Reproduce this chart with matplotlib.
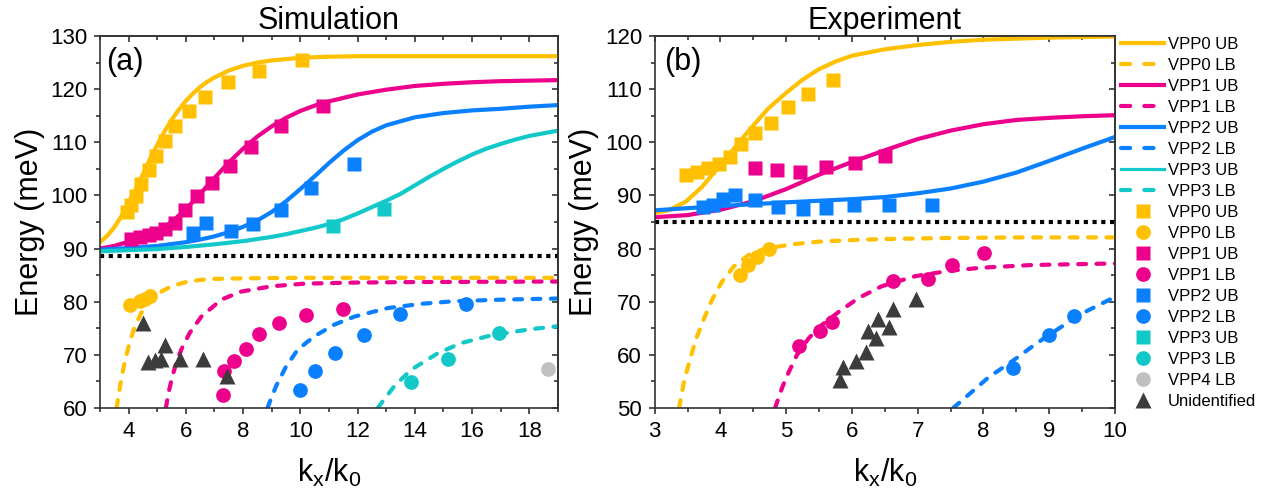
import matplotlib
matplotlib.use('Agg')
import matplotlib.pyplot as plt
from matplotlib.lines import Line2D
from matplotlib.ticker import MultipleLocator, NullFormatter

plt.rcParams['font.family'] = ['Liberation Sans', 'DejaVu Sans']
plt.rcParams['mathtext.fontset'] = 'custom'
plt.rcParams['mathtext.rm'] = 'Liberation Sans'
plt.rcParams['mathtext.it'] = 'Liberation Sans:italic'

# ---------------- simulation (a) ----------------
sim_ub0_line_x = [3.0, 3.25, 3.5, 3.75, 4.0, 4.25, 4.5, 4.75, 5.0, 5.25, 5.5, 5.75, 6.0, 6.25, 6.5,
                  6.75, 7.0, 7.5, 8.0, 8.5, 9.0, 10.0, 11.0, 12.0, 14.0, 16.0, 19.0]
sim_ub0_line_e = [91.2, 92.4, 94.0, 96.1, 98.6, 101.3, 104.0, 106.9, 109.5, 112.0, 114.2, 116.1, 117.8,
                  119.2, 120.4, 121.4, 122.2, 123.5, 124.4, 125.0, 125.4, 125.9, 126.1, 126.2, 126.2,
                  126.2, 126.2]
sim_ub1_line_x = [3.0, 3.5, 4.0, 4.5, 5.0, 5.5, 6.0, 6.5, 7.0, 7.5, 8.0, 8.5, 9.0, 9.5, 10.0, 10.5,
                  11.0, 12.0, 13.0, 14.0, 15.0, 16.0, 17.0, 19.0]
sim_ub1_line_e = [90.0, 90.5, 91.3, 92.2, 93.2, 95.0, 97.4, 100.3, 103.3, 106.2, 108.8, 111.1, 113.0,
                  114.6, 115.9, 116.9, 117.7, 119.0, 119.9, 120.6, 121.0, 121.3, 121.5, 121.7]
sim_ub2_line_x = [3.0, 4.0, 5.0, 6.0, 6.5, 7.0, 7.5, 8.0, 8.5, 9.0, 9.5, 10.0, 10.5, 11.0, 11.5,
                  12.0, 12.5, 13.0, 14.0, 15.0, 16.0, 17.0, 18.0, 19.0]
sim_ub2_line_e = [89.8, 90.1, 90.5, 91.2, 91.7, 92.3, 93.1, 94.1, 95.3, 96.9, 98.9, 101.2, 103.6,
                  106.1, 108.4, 110.4, 112.0, 113.2, 114.7, 115.5, 116.0, 116.3, 116.7, 117.0]
sim_ub3_line_x = [3.0, 4.0, 5.0, 6.0, 7.0, 8.0, 9.0, 9.5, 10.0, 10.5, 11.0, 11.5, 12.0, 12.5, 13.0,
                  13.5, 14.0, 14.5, 15.0, 15.5, 16.0, 16.5, 17.0, 17.5, 18.0, 18.5, 19.0]
sim_ub3_line_e = [89.5, 89.7, 89.9, 90.3, 90.8, 91.4, 92.2, 92.7, 93.3, 93.9, 94.6, 95.5, 96.6, 97.8,
                  99.0, 100.3, 101.9, 103.5, 105.0, 106.4, 107.7, 108.8, 109.7, 110.5, 111.2, 111.7,
                  112.2]

sim_lb0_line_x = [3.58, 3.65, 3.74, 3.88, 4.04, 4.21, 4.44, 4.7, 4.91, 5.2, 5.5, 6.0, 6.5, 7.0, 8.0,
                  10.0, 13.0, 16.0, 19.0]
sim_lb0_line_e = [60.0, 62.5, 65.3, 69.1, 72.4, 75.2, 77.9, 79.9, 81.0, 82.1, 82.9, 83.7, 84.1, 84.3,
                  84.4, 84.5, 84.5, 84.5, 84.5]
sim_lb1_line_x = [5.3, 5.4, 5.52, 5.66, 5.84, 6.13, 6.54, 7.24, 7.93, 8.98, 10.14, 11.9, 14.0, 19.0]
sim_lb1_line_e = [60.0, 63.0, 65.8, 68.4, 71.0, 74.1, 77.2, 80.4, 81.9, 82.9, 83.4, 83.6, 83.7, 83.8]
sim_lb2_line_x = [8.85, 8.92, 9.15, 9.5, 9.91, 10.49, 11.19, 11.89, 13.05, 14.22, 15.38, 17.12, 19.0]
sim_lb2_line_e = [60.0, 61.0, 64.1, 67.8, 71.0, 73.5, 75.7, 77.2, 78.8, 79.6, 80.1, 80.4, 80.6]
sim_lb3_line_x = [12.7, 13.28, 13.87, 14.8, 15.61, 16.54, 17.17, 18.0, 19.0]
sim_lb3_line_e = [60.0, 64.1, 67.2, 70.3, 72.2, 73.5, 74.1, 74.8, 75.4]

sim_ub0_x = [3.94, 4.1, 4.25, 4.44, 4.71, 4.97, 5.28, 5.63, 6.1, 6.68, 7.47, 8.54, 10.06]
sim_ub0_e = [96.8, 98.2, 99.8, 102.2, 104.8, 107.4, 110.3, 113.1, 115.9, 118.6, 121.3, 123.5, 125.4]
sim_ub1_x = [4.07, 4.38, 4.7, 4.95, 5.28, 5.61, 5.96, 6.39, 6.91, 7.53, 8.28, 9.31, 10.8]
sim_ub1_e = [91.8, 92.1, 92.5, 93.0, 93.7, 94.9, 97.3, 99.8, 102.4, 105.6, 109.2, 113.0, 116.8]
sim_ub2_x = [6.25, 6.71, 7.58, 8.36, 9.31, 10.38, 11.89]
sim_ub2_e = [92.9, 94.9, 93.3, 94.6, 97.3, 101.4, 105.9]
sim_ub3_x = [11.13, 12.91]
sim_ub3_e = [94.3, 97.4]
sim_lb0_x = [4.06, 4.38, 4.56, 4.73]
sim_lb0_e = [79.4, 80.2, 80.5, 81.0]
sim_lb1_x = [7.29, 7.32, 7.68, 8.11, 8.57, 9.27, 10.2, 11.48]
sim_lb1_e = [62.5, 66.9, 68.8, 71.1, 73.9, 76.0, 77.5, 78.6]
sim_lb2_x = [10.0, 10.52, 11.21, 12.21, 13.48, 15.79]
sim_lb2_e = [63.3, 66.9, 70.3, 73.7, 77.7, 79.6]
sim_lb3_x = [13.87, 15.15, 16.95]
sim_lb3_e = [64.8, 69.2, 74.2]
sim_lb4_x = [18.64]
sim_lb4_e = [67.4]
sim_unk_x = [4.5, 4.68, 4.92, 5.12, 5.27, 5.8, 6.6, 7.44]
sim_unk_e = [76.0, 68.7, 69.0, 69.2, 71.9, 69.3, 69.3, 66.0]
sim_light_line = 88.6

# ---------------- experiment (b) ----------------
exp_ub0_line_x = [3.0, 3.21, 3.47, 3.72, 3.97, 4.23, 4.48, 4.73, 4.99, 5.24, 5.49, 5.75, 6.0, 6.5,
                  7.0, 7.5, 8.0, 9.0, 10.0]
exp_ub0_line_e = [86.7, 87.2, 88.8, 91.6, 95.3, 99.2, 102.9, 106.4, 109.2, 111.7, 113.7, 115.2, 116.3,
                  117.5, 118.3, 118.9, 119.3, 119.7, 119.9]
exp_ub1_line_x = [3.0, 3.5, 4.0, 4.5, 5.0, 5.5, 6.0, 6.5, 7.0, 7.5, 8.0, 8.5, 9.0, 9.5, 10.0]
exp_ub1_line_e = [85.9, 86.3, 87.3, 88.9, 91.2, 93.9, 96.3, 98.5, 100.6, 102.2, 103.4, 104.2, 104.6,
                  104.9, 105.1]
exp_ub2_line_x = [3.0, 4.0, 5.0, 6.0, 6.5, 7.0, 7.5, 8.0, 8.5, 9.0, 9.5, 10.0]
exp_ub2_line_e = [87.2, 88.0, 88.7, 89.3, 89.7, 90.4, 91.3, 92.6, 94.3, 96.5, 98.8, 101.0]

exp_lb0_line_x = [3.37, 3.44, 3.52, 3.62, 3.74, 3.87, 4.02, 4.2, 4.43, 4.68, 5.09, 5.49, 6.0, 6.5,
                  7.5, 8.5, 10.0]
exp_lb0_line_e = [50.0, 54.6, 58.4, 62.7, 66.5, 70.3, 73.7, 76.6, 78.8, 80.0, 80.8, 81.3, 81.6, 81.8,
                  82.0, 82.1, 82.1]
exp_lb1_line_x = [4.83, 4.94, 5.04, 5.16, 5.34, 5.54, 5.8, 6.1, 6.45, 6.96, 7.47, 7.97, 8.73, 10.0]
exp_lb1_line_e = [50.0, 53.9, 56.8, 59.9, 63.1, 65.6, 68.1, 70.7, 72.9, 74.8, 75.8, 76.4, 76.9, 77.2]
exp_lb2_line_x = [7.54, 7.82, 8.08, 8.46, 8.8, 9.15, 9.5, 10.0]
exp_lb2_line_e = [50.0, 53.0, 55.8, 59.0, 62.1, 65.0, 67.8, 70.9]

exp_ub0_x = [3.48, 3.64, 3.81, 3.98, 4.15, 4.32, 4.52, 4.77, 5.02, 5.33, 5.71]
exp_ub0_e = [93.9, 94.5, 95.1, 96.0, 97.3, 99.6, 101.7, 103.7, 106.6, 109.1, 111.8]
exp_ub1_x = [4.52, 4.86, 5.21, 5.6, 6.04, 6.5]
exp_ub1_e = [95.2, 94.7, 94.5, 95.3, 96.1, 97.5]
exp_ub2_x = [3.73, 3.89, 4.04, 4.22, 4.52, 4.88, 5.25, 5.6, 6.03, 6.57, 7.21]
exp_ub2_e = [87.9, 88.2, 89.3, 90.1, 89.1, 87.9, 87.4, 87.7, 88.2, 88.2, 88.2]
exp_lb0_x = [4.3, 4.42, 4.55, 4.74]
exp_lb0_e = [75.1, 77.0, 78.5, 79.9]
exp_lb1_x = [5.2, 5.51, 5.7, 6.63, 7.15, 7.52, 8.01]
exp_lb1_e = [61.7, 64.5, 66.2, 73.9, 74.2, 76.9, 79.2]
exp_lb2_x = [8.45, 9.0, 9.38]
exp_lb2_e = [57.6, 63.7, 67.3]
exp_unk_x = [5.82, 5.87, 6.06, 6.22, 6.24, 6.37, 6.39, 6.57, 6.63, 6.97]
exp_unk_e = [55.3, 57.7, 58.9, 60.5, 64.4, 63.2, 66.8, 65.3, 68.7, 70.6]
exp_light_line = 85.0

C0, C1, C2, C3, C4, CU = '#FFC000', '#EC008C', '#0A80FF', '#12C8C8', '#C0C0C0', '#3C3C3C'
LW = 3.0
DASH = (0, (1.9, 2.5))
LEG_DASH = (0, (2.2, 3.4))
SQ, CI, TR = 9.4, 10.6, 12.0
AXC = '#333333'
TICK_FS, LABEL_FS = 16, 22


def solid(ax, x, y, c):
    ax.plot(x, y, color=c, lw=LW, solid_capstyle='round', zorder=2)


def dashed(ax, x, y, c):
    ax.plot(x, y, color=c, lw=LW, ls=DASH, dash_capstyle='round', zorder=2)


def points(ax, x, y, c, m, s):
    ax.plot(x, y, ls='none', marker=m, ms=s, color=c, mec='none', zorder=3)


def ticks(axis_obj, direction, **kw):
    axis_obj.tick_params(which='both', direction=direction, width=1.2, color=AXC, **kw)
    axis_obj.tick_params(which='major', length=4.6)
    axis_obj.tick_params(which='minor', length=2.7)


def style(ax, xmaj, xmin, ymaj, ymin):
    ax.xaxis.set_major_locator(MultipleLocator(xmaj))
    ax.xaxis.set_minor_locator(MultipleLocator(xmin))
    ax.yaxis.set_major_locator(MultipleLocator(ymaj))
    ax.yaxis.set_minor_locator(MultipleLocator(ymin))
    ticks(ax, 'out', labelsize=TICK_FS, pad=4.5)
    for s in ax.spines.values():
        s.set_linewidth(1.2)
        s.set_color(AXC)
    # mirrored ticks on top / right point inward
    top = ax.secondary_xaxis('top')
    top.xaxis.set_major_locator(MultipleLocator(xmaj))
    top.xaxis.set_minor_locator(MultipleLocator(xmin))
    top.xaxis.set_major_formatter(NullFormatter())
    ticks(top, 'in')
    right = ax.secondary_yaxis('right')
    right.yaxis.set_major_locator(MultipleLocator(ymaj))
    right.yaxis.set_minor_locator(MultipleLocator(ymin))
    right.yaxis.set_major_formatter(NullFormatter())
    ticks(right, 'in')
    for sec in (top, right):
        for s in sec.spines.values():
            s.set_linewidth(1.2)
            s.set_color(AXC)
    ax.set_xlabel(r'k$_\mathregular{x}$/k$_\mathregular{0}$', fontsize=LABEL_FS, labelpad=11)
    ax.set_ylabel('Energy (meV)', fontsize=LABEL_FS, labelpad=4)


fig = plt.figure(figsize=(12.7, 4.97), dpi=100)
ax1 = fig.add_axes([100 / 1270, 89 / 497, 458 / 1270, 372 / 497])
ax2 = fig.add_axes([654.7 / 1270, 89 / 497, 460.3 / 1270, 372 / 497])

# (a) simulation
solid(ax1, sim_ub0_line_x, sim_ub0_line_e, C0)
solid(ax1, sim_ub1_line_x, sim_ub1_line_e, C1)
solid(ax1, sim_ub2_line_x, sim_ub2_line_e, C2)
solid(ax1, sim_ub3_line_x, sim_ub3_line_e, C3)
dashed(ax1, sim_lb0_line_x, sim_lb0_line_e, C0)
dashed(ax1, sim_lb1_line_x, sim_lb1_line_e, C1)
dashed(ax1, sim_lb2_line_x, sim_lb2_line_e, C2)
dashed(ax1, sim_lb3_line_x, sim_lb3_line_e, C3)
ax1.axhline(sim_light_line, color='k', lw=3, ls=(0, (1, 1.1)), zorder=2)
points(ax1, sim_ub0_x, sim_ub0_e, C0, 's', SQ)
points(ax1, sim_ub1_x, sim_ub1_e, C1, 's', SQ)
points(ax1, sim_ub2_x, sim_ub2_e, C2, 's', SQ)
points(ax1, sim_ub3_x, sim_ub3_e, C3, 's', SQ)
points(ax1, sim_lb0_x, sim_lb0_e, C0, 'o', CI)
points(ax1, sim_lb1_x, sim_lb1_e, C1, 'o', CI)
points(ax1, sim_lb2_x, sim_lb2_e, C2, 'o', CI)
points(ax1, sim_lb3_x, sim_lb3_e, C3, 'o', CI)
points(ax1, sim_lb4_x, sim_lb4_e, C4, 'o', CI)
points(ax1, sim_unk_x, sim_unk_e, CU, '^', TR)
ax1.set_xlim(3, 19)
ax1.set_ylim(60, 130)
style(ax1, 2, 1, 10, 5)
ax1.set_title('Simulation', fontsize=LABEL_FS, pad=5)
ax1.text(0.013, 0.93, '(a)', transform=ax1.transAxes, fontsize=LABEL_FS, va='center', ha='left')

# (b) experiment
solid(ax2, exp_ub0_line_x, exp_ub0_line_e, C0)
solid(ax2, exp_ub1_line_x, exp_ub1_line_e, C1)
solid(ax2, exp_ub2_line_x, exp_ub2_line_e, C2)
dashed(ax2, exp_lb0_line_x, exp_lb0_line_e, C0)
dashed(ax2, exp_lb1_line_x, exp_lb1_line_e, C1)
dashed(ax2, exp_lb2_line_x, exp_lb2_line_e, C2)
ax2.axhline(exp_light_line, color='k', lw=3, ls=(0, (1, 1.1)), zorder=2)
points(ax2, exp_ub0_x, exp_ub0_e, C0, 's', SQ)
points(ax2, exp_ub1_x, exp_ub1_e, C1, 's', SQ)
points(ax2, exp_ub2_x, exp_ub2_e, C2, 's', SQ)
points(ax2, exp_lb0_x, exp_lb0_e, C0, 'o', CI)
points(ax2, exp_lb1_x, exp_lb1_e, C1, 'o', CI)
points(ax2, exp_lb2_x, exp_lb2_e, C2, 'o', CI)
points(ax2, exp_unk_x, exp_unk_e, CU, '^', TR)
ax2.set_xlim(3, 10)
ax2.set_ylim(50, 120)
style(ax2, 1, 0.5, 10, 5)
ax2.set_title('Experiment', fontsize=LABEL_FS, pad=5)
ax2.text(0.02, 0.93, '(b)', transform=ax2.transAxes, fontsize=LABEL_FS, va='center', ha='left')

# shared legend to the right
handles = [
    Line2D([], [], color=C0, lw=LW, label='VPP0 UB'),
    Line2D([], [], color=C0, lw=LW, ls=LEG_DASH, dash_capstyle='round', label='VPP0 LB'),
    Line2D([], [], color=C1, lw=LW, label='VPP1 UB'),
    Line2D([], [], color=C1, lw=LW, ls=LEG_DASH, dash_capstyle='round', label='VPP1 LB'),
    Line2D([], [], color=C2, lw=LW, label='VPP2 UB'),
    Line2D([], [], color=C2, lw=LW, ls=LEG_DASH, dash_capstyle='round', label='VPP2 LB'),
    Line2D([], [], color=C3, lw=2.3, label='VPP3 UB'),
    Line2D([], [], color=C3, lw=LW, ls=LEG_DASH, dash_capstyle='round', label='VPP3 LB'),
    Line2D([], [], ls='none', marker='s', ms=SQ, color=C0, mec='none', label='VPP0 UB'),
    Line2D([], [], ls='none', marker='o', ms=CI, color=C0, mec='none', label='VPP0 LB'),
    Line2D([], [], ls='none', marker='s', ms=SQ, color=C1, mec='none', label='VPP1 UB'),
    Line2D([], [], ls='none', marker='o', ms=CI, color=C1, mec='none', label='VPP1 LB'),
    Line2D([], [], ls='none', marker='s', ms=SQ, color=C2, mec='none', label='VPP2 UB'),
    Line2D([], [], ls='none', marker='o', ms=CI, color=C2, mec='none', label='VPP2 LB'),
    Line2D([], [], ls='none', marker='s', ms=SQ, color=C3, mec='none', label='VPP3 UB'),
    Line2D([], [], ls='none', marker='o', ms=CI, color=C3, mec='none', label='VPP3 LB'),
    Line2D([], [], ls='none', marker='o', ms=CI, color=C4, mec='none', label='VPP4 LB'),
    Line2D([], [], ls='none', marker='^', ms=TR, color=CU, mec='none', label='Unidentified'),
]
fig.legend(handles=handles, loc='upper left', bbox_to_anchor=(1121 / 1270, 1 - 37 / 497),
           frameon=False, fontsize=12, handlelength=2.6, handletextpad=0.2,
           labelspacing=0.36, borderpad=0, borderaxespad=0)

fig.savefig('out.png', dpi=100)
